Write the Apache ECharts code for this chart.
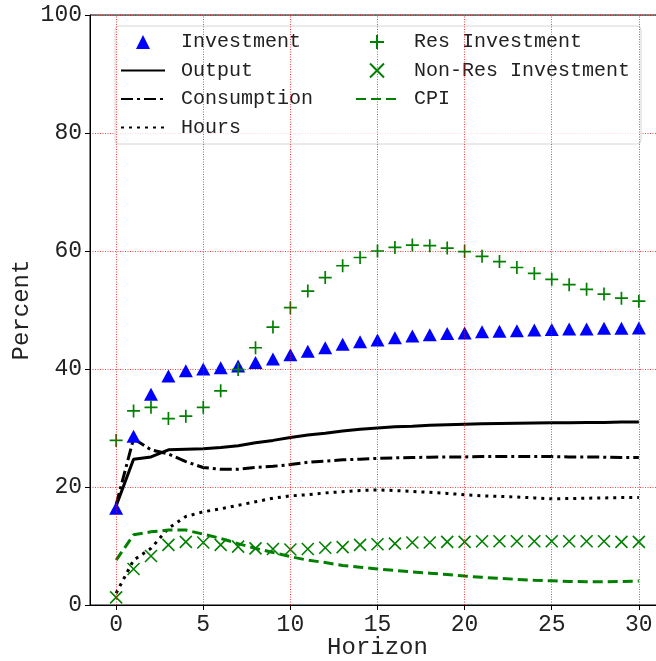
<!DOCTYPE html>
<html><head><meta charset="utf-8">
<script src="https://cdn.jsdelivr.net/npm/echarts@6/dist/echarts.min.js"></script>
<style>html,body{margin:0;padding:0;background:#fff}#c{width:656px;height:661px}</style>
</head><body><div id="c"></div>
<script>
const horizon = Array.from({length: 31}, (_, i) => i);
const xTicks = [0, 5, 10, 15, 20, 25, 30];
const investment = [16.4, 28.6, 35.7, 38.8, 39.7, 40.0, 40.2, 40.5, 41.1, 41.7, 42.4, 43.0, 43.6, 44.2, 44.6, 44.9, 45.3, 45.6, 45.8, 46.0, 46.1, 46.3, 46.4, 46.5, 46.6, 46.7, 46.8, 46.8, 46.9, 46.9, 46.95];
const output = [16.8, 24.7, 25.1, 26.3, 26.4, 26.5, 26.7, 27.0, 27.5, 27.9, 28.4, 28.8, 29.1, 29.5, 29.8, 30.0, 30.2, 30.3, 30.45, 30.55, 30.65, 30.7, 30.75, 30.8, 30.85, 30.9, 30.9, 30.95, 30.95, 31.0, 31.0];
const consumption = [17.0, 28.2, 26.3, 25.6, 24.3, 23.3, 23.0, 23.0, 23.3, 23.5, 23.8, 24.2, 24.4, 24.6, 24.7, 24.85, 24.95, 25.0, 25.05, 25.1, 25.1, 25.15, 25.15, 25.15, 25.15, 25.15, 25.1, 25.1, 25.05, 25.0, 25.0];
const hours = [2.0, 7.6, 9.6, 13.0, 15.0, 15.8, 16.3, 16.9, 17.5, 18.1, 18.5, 18.7, 19.0, 19.2, 19.4, 19.5, 19.4, 19.25, 19.1, 18.9, 18.7, 18.5, 18.4, 18.3, 18.15, 18.0, 18.05, 18.1, 18.15, 18.2, 18.2];
const resInvestment = [27.9, 32.9, 33.5, 31.6, 32.0, 33.5, 36.3, 39.9, 43.6, 47.1, 50.4, 53.2, 55.5, 57.5, 58.9, 60.0, 60.6, 61.0, 60.9, 60.5, 59.9, 59.1, 58.2, 57.2, 56.2, 55.2, 54.3, 53.5, 52.7, 52.0, 51.5];
const nonResInvestment = [1.3, 6.1, 8.3, 10.2, 10.7, 10.6, 10.2, 9.9, 9.6, 9.5, 9.4, 9.5, 9.7, 9.8, 10.2, 10.3, 10.4, 10.6, 10.6, 10.7, 10.7, 10.8, 10.8, 10.8, 10.8, 10.8, 10.8, 10.8, 10.8, 10.7, 10.7];
const cpi = [7.6, 11.9, 12.4, 12.7, 12.7, 12.0, 11.3, 10.4, 9.6, 8.9, 8.2, 7.6, 7.2, 6.7, 6.4, 6.1, 5.85, 5.6, 5.4, 5.15, 4.9, 4.7, 4.5, 4.35, 4.2, 4.1, 4.0, 3.95, 3.95, 4.0, 4.05];

const FONT = "'Liberation Mono', 'DejaVu Sans Mono', monospace";
const pair = arr => horizon.map((h, i) => [h, arr[i]]);
const GREEN = '#008000';
const gridColor = 'rgba(255,0,0,0.75)';
const TRI = 'path://M5,0L10,10L0,10Z';

const chart = echarts.init(document.getElementById('c'), null, {renderer: 'canvas'});
const legendCommon = {
  orient: 'vertical', padding: 0, itemGap: 8.5, itemHeight: 14, selectedMode: false, symbolKeepAspect: true,
  textStyle: {fontFamily: FONT, fontSize: 20, color: '#222', lineHeight: 20, padding: [0, 0, 0, 11]}
};
const noSym = {opacity: 0};
chart.setOption({
  animation: false,
  backgroundColor: '#fff',
  grid: {left: 90, top: 15, bottom: 56, right: -9, outerBoundsMode: 'none', containLabel: false,
    show: true, borderColor: '#000', borderWidth: 1, backgroundColor: 'transparent'},
  graphic: [{type: 'rect', z: 3, shape: {x: 115, y: 26, width: 526, height: 118, r: 4},
    style: {fill: 'rgba(255,255,255,0.8)', stroke: '#d6d6d6', lineWidth: 1}}],
  legend: [
    Object.assign({left: 120, top: 32, itemWidth: 44, data: [
      {name: 'Investment', itemStyle: {opacity: 1}},
      {name: 'Output', itemStyle: noSym},
      {name: 'Consumption', itemStyle: noSym},
      {name: 'Hours', itemStyle: noSym}]}, legendCommon),
    Object.assign({left: 355, top: 32, itemWidth: 42, data: [
      {name: 'Res Investment', itemStyle: {opacity: 1}},
      {name: 'Non-Res Investment', itemStyle: {opacity: 1}},
      {name: 'CPI', itemStyle: noSym}]}, legendCommon)
  ],
  xAxis: {
    type: 'value', min: -1.5, max: 31.5,
    name: 'Horizon', nameLocation: 'middle', nameGap: 31, nameMoveOverlap: false,
    nameTextStyle: {fontFamily: FONT, fontSize: 24, color: '#222'},
    axisLine: {show: true, onZero: false, lineStyle: {color: '#000', width: 1}},
    axisTick: {show: true, length: 5, lineStyle: {color: '#000'}, customValues: xTicks},
    axisLabel: {fontFamily: FONT, fontSize: 23, color: '#222', margin: 8, customValues: xTicks},
    splitLine: {show: false}
  },
  yAxis: {
    type: 'value', min: 0, max: 100, interval: 20,
    name: 'Percent', nameLocation: 'middle', nameGap: 56, nameRotate: 90, nameMoveOverlap: false,
    nameTextStyle: {fontFamily: FONT, fontSize: 24, color: '#222'},
    axisLine: {show: true, onZero: false, lineStyle: {color: '#000', width: 1}},
    axisTick: {show: true, length: 5, lineStyle: {color: '#000'}},
    axisLabel: {fontFamily: FONT, fontSize: 23, color: '#222', margin: 8},
    splitLine: {show: true, lineStyle: {color: gridColor, type: [1, 1.5], width: 1}}
  },
  series: [
    {name: 'Investment', type: 'scatter', data: pair(investment), symbol: TRI, symbolSize: [14, 13],
      itemStyle: {color: '#0000ff', opacity: 1}, z: 3},
    {name: 'Output', type: 'line', data: pair(output), showSymbol: false, symbol: 'none',
      lineStyle: {color: '#000', width: 3}, itemStyle: {color: '#000'},
      markLine: {silent: true, symbol: 'none', label: {show: false},
        lineStyle: {color: gridColor, type: [1, 1.5], width: 1},
        data: xTicks.map(v => ({xAxis: v}))}},
    {name: 'Consumption', type: 'line', data: pair(consumption), showSymbol: false, symbol: 'none',
      lineStyle: {color: '#000', width: 3, type: [12, 4, 3, 4]}, itemStyle: {color: '#000'}},
    {name: 'Hours', type: 'line', data: pair(hours), showSymbol: false, symbol: 'none',
      lineStyle: {color: '#000', width: 3, type: [3, 5]}, itemStyle: {color: '#000'}},
    {name: 'Res Investment', type: 'scatter', data: pair(resInvestment), symbol: 'path://M0,5L10,5M5,0L5,10', symbolSize: 13,
      itemStyle: {color: 'rgba(0,0,0,0)', borderColor: GREEN, borderWidth: 1.7, opacity: 1}, z: 3},
    {name: 'Non-Res Investment', type: 'scatter', data: pair(nonResInvestment), symbol: 'path://M0,0L10,10M10,0L0,10', symbolSize: 12,
      itemStyle: {color: 'rgba(0,0,0,0)', borderColor: GREEN, borderWidth: 1.6, opacity: 1}, z: 3},
    {name: 'CPI', type: 'line', data: pair(cpi), showSymbol: false, symbol: 'none',
      lineStyle: {color: GREEN, width: 3, type: [10, 5]}, itemStyle: {color: GREEN}}
  ]
});
</script></body></html>
